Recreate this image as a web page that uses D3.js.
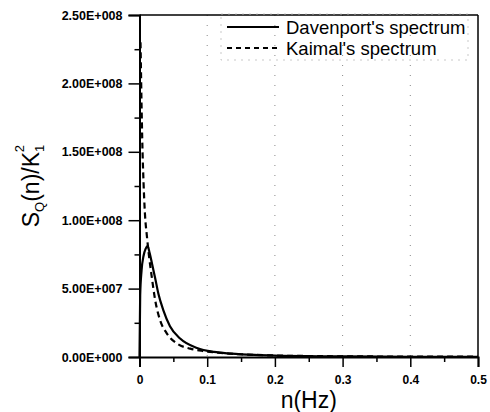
<!DOCTYPE html>
<html>
<head>
<meta charset="utf-8">
<script src="https://cdn.jsdelivr.net/npm/d3@7"></script>
<style>
  body { margin: 0; background: #fff; }
  svg { font-family: Arial, "Liberation Sans", sans-serif; }
</style>
</head>
<body>
<div id="chart"></div>
<script>
// values
const davenportN = [0, 0.001, 0.003, 0.006, 0.009, 0.012, 0.015, 0.019, 0.023, 0.028, 0.035, 0.045, 0.06, 0.085, 0.11, 0.135, 0.17, 0.2, 0.25, 0.3, 0.4, 0.5];
const davenportS = [0, 4.5e7, 6.3e7, 7.4e7, 7.9e7, 8.1e7, 7.6e7, 6.7e7, 5.8e7, 4.6e7, 3.45e7, 2.25e7, 1.35e7, 6.6e6, 3.7e6, 2.5e6, 1.5e6, 1.0e6, 6e5, 4e5, 2e5, 1e5];

const kaimalN = [0.0015, 0.002, 0.003, 0.004, 0.006, 0.008, 0.011, 0.014, 0.018, 0.023, 0.03, 0.04, 0.055, 0.075, 0.095, 0.12, 0.15, 0.2, 0.25, 0.3, 0.4, 0.5];
const kaimalS = [2.3e8, 2.15e8, 1.85e8, 1.6e8, 1.27e8, 1.05e8, 8.8e7, 7.4e7, 5.9e7, 4.2e7, 2.75e7, 1.75e7, 1.0e7, 6.1e6, 4.3e6, 3.0e6, 2.0e6, 1.1e6, 7e5, 5e5, 3e5, 2e5];

const xTicks = [0, 0.1, 0.2, 0.3, 0.4, 0.5];
const xTickLabels = ["0", "0.1", "0.2", "0.3", "0.4", "0.5"];
const yTicks = [0, 5e7, 1e8, 1.5e8, 2e8, 2.5e8];
const yTickLabels = ["0.00E+000", "5.00E+007", "1.00E+008", "1.50E+008", "2.00E+008", "2.50E+008"];
const legendNames = ["Davenport's spectrum", "Kaimal's spectrum"];

const width = 490, height = 412;
const margin = { left: 139.5, right: 12, top: 15, bottom: 55 };

const svg = d3.select("#chart").append("svg")
  .attr("width", width)
  .attr("height", height);

const x = d3.scaleLinear().domain([0, 0.5]).range([margin.left, width - margin.right]);
const y = d3.scaleLinear().domain([0, 2.5e8]).range([height - margin.bottom, margin.top]);

// dotted vertical grid
svg.append("g")
  .selectAll("line")
  .data(xTicks.slice(1, -1))
  .enter()
  .append("line")
  .attr("x1", (d) => x(d))
  .attr("x2", (d) => x(d))
  .attr("y1", y(2.5e8))
  .attr("y2", y(0))
  .attr("stroke", "#888")
  .attr("stroke-width", 1)
  .attr("stroke-dasharray", "1,9");

// frame (top and right)
svg.append("line")
  .attr("x1", x(0)).attr("x2", x(0.5))
  .attr("y1", y(2.5e8)).attr("y2", y(2.5e8))
  .attr("stroke", "#000").attr("stroke-width", 1.5);
svg.append("line")
  .attr("x1", x(0.5)).attr("x2", x(0.5))
  .attr("y1", y(2.5e8)).attr("y2", y(0))
  .attr("stroke", "#000").attr("stroke-width", 1.5);

// x axis
const xAxis = svg.append("g")
  .attr("transform", `translate(0,${y(0)})`)
  .call(d3.axisBottom(x).tickValues(xTicks).tickFormat((d, i) => xTickLabels[i]).tickSize(10).tickPadding(8));
xAxis.append("g")
  .call(d3.axisBottom(x).tickValues([0.05, 0.15, 0.25, 0.35, 0.45]).tickFormat("").tickSize(5))
  .select(".domain").remove();
xAxis.selectAll("path.domain").attr("stroke-width", 2);
xAxis.selectAll("line").attr("stroke-width", 1.5);
xAxis.selectAll("text")
  .attr("font-size", 12)
  .attr("font-weight", "bold")
  .attr("font-family", "Arial, 'Liberation Sans', sans-serif");

// y axis
const yAxis = svg.append("g")
  .attr("transform", `translate(${x(0)},0)`)
  .call(d3.axisLeft(y).tickValues(yTicks).tickFormat((d, i) => yTickLabels[i]).tickSize(11).tickPadding(6));
yAxis.append("g")
  .call(d3.axisLeft(y).tickValues([2.5e7, 7.5e7, 1.25e8, 1.75e8, 2.25e8]).tickFormat("").tickSize(5))
  .select(".domain").remove();
yAxis.selectAll("path.domain").attr("stroke-width", 2);
yAxis.selectAll("line").attr("stroke-width", 1.5);
yAxis.selectAll("text")
  .attr("font-size", 12.5)
  .attr("font-weight", "bold")
  .attr("font-family", "Arial, 'Liberation Sans', sans-serif");

// curves
const line = d3.line()
  .x((d) => x(d[0]))
  .y((d) => y(d[1]))
  .curve(d3.curveMonotoneX);

const davenport = davenportN.map((n, i) => [n, davenportS[i]]);
const kaimal = kaimalN.map((n, i) => [n, kaimalS[i]]);

svg.append("path")
  .datum(kaimal)
  .attr("d", line)
  .attr("fill", "none")
  .attr("stroke", "#000")
  .attr("stroke-width", 2.2)
  .attr("stroke-dasharray", "6,4");

svg.append("path")
  .datum(davenport)
  .attr("d", line)
  .attr("fill", "none")
  .attr("stroke", "#000")
  .attr("stroke-width", 2.2);

// legend
const legend = svg.append("g");
legend.append("rect")
  .attr("x", 221).attr("y", 14)
  .attr("width", 247).attr("height", 46)
  .attr("fill", "none")
  .attr("stroke", "#bbb")
  .attr("stroke-width", 0.8)
  .attr("stroke-dasharray", "2,5");

legendNames.forEach((name, i) => {
  const ly = 27 + i * 21;
  legend.append("line")
    .attr("x1", 227).attr("x2", 279)
    .attr("y1", ly).attr("y2", ly)
    .attr("stroke", "#000")
    .attr("stroke-width", 2)
    .attr("stroke-dasharray", i === 1 ? "5,4" : null);
  legend.append("text")
    .attr("x", 286).attr("y", ly + 6.5)
    .attr("font-size", 18.5)
    .text(name);
});

// axis titles
svg.append("text")
  .attr("x", (x(0) + x(0.5)) / 2)
  .attr("y", 408)
  .attr("text-anchor", "middle")
  .attr("font-size", 23)
  .text("n(Hz)");

const yTitle = svg.append("text")
  .attr("transform", "translate(39,186) rotate(-90)")
  .attr("text-anchor", "middle")
  .attr("font-size", 23);
yTitle.append("tspan").text("S");
yTitle.append("tspan").attr("font-size", 13).attr("dy", 5).text("Q");
yTitle.append("tspan").attr("dy", -5).text("(n)/K");
yTitle.append("tspan").attr("font-size", 13).attr("dy", 5).text("1");
yTitle.append("tspan").attr("font-size", 13).attr("dx", -7.5).attr("dy", -20).text("2");
</script>
</body>
</html>
